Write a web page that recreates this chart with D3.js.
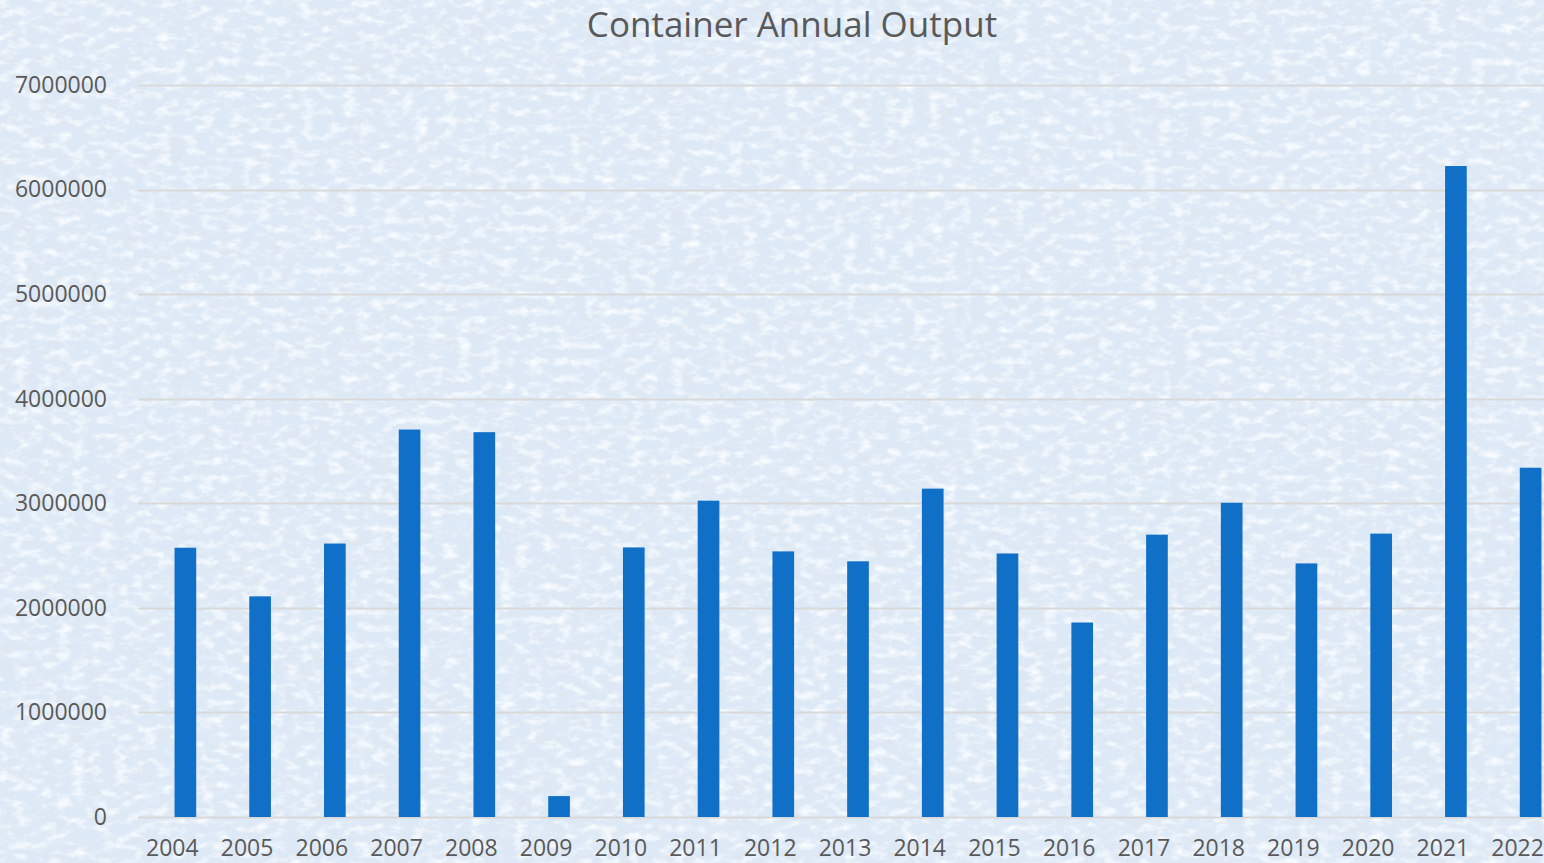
<!DOCTYPE html>
<html>
<head>
<meta charset="utf-8">
<script src="https://cdn.jsdelivr.net/npm/d3@7"></script>
<style>
  html, body { margin: 0; padding: 0; overflow: hidden; }
  svg { display: block; }
</style>
</head>
<body>
<svg id="chart" width="1544" height="863"></svg>
<script>
// data
const years = ['2004','2005','2006','2007','2008','2009','2010','2011','2012','2013',
               '2014','2015','2016','2017','2018','2019','2020','2021','2022'];
const output = [2575000, 2110000, 2615000, 3705000, 3680000, 200000, 2578000, 3025000, 2540000, 2445000,
                3140000, 2520000, 1860000, 2700000, 3005000, 2425000, 2710000, 6225000, 3340000];
const yTicks = [0, 1000000, 2000000, 3000000, 4000000, 5000000, 6000000, 7000000];

function drawChart() {
  let svg = d3.select('#chart');
  let width = +svg.attr('width'),
      height = +svg.attr('height');

  let textColor = '#595959',
      gridColor = '#d9d9d9',
      barColor = '#106fc7';

  // mottled paper-ish background: darker specks + lighter specks
  let defs = svg.append('defs');
  function noiseFilter(id, freq, seed, rgb, a, b) {
    let f = defs.append('filter')
        .attr('id', id)
        .attr('x', 0).attr('y', 0)
        .attr('width', '100%').attr('height', '100%');
    f.append('feTurbulence')
        .attr('type', 'fractalNoise')
        .attr('baseFrequency', freq)
        .attr('numOctaves', 3)
        .attr('seed', seed)
        .attr('result', 'noise');
    f.append('feColorMatrix')
        .attr('in', 'noise')
        .attr('type', 'matrix')
        .attr('values', '0 0 0 0 ' + rgb[0] + '  0 0 0 0 ' + rgb[1] + '  0 0 0 0 ' + rgb[2] +
                        '  ' + a + ' 0 0 0 ' + b);
  }
  noiseFilter('dark', '0.06 0.11', 3, [0.74, 0.80, 0.88], 2.6, -1.25);
  noiseFilter('light', '0.07 0.12', 11, [0.94, 0.97, 1.0], 2.6, -1.2);

  svg.append('rect')
      .attr('width', width).attr('height', height)
      .attr('fill', '#dde9f6');
  svg.append('rect')
      .attr('width', width).attr('height', height)
      .attr('filter', 'url(#dark)');
  svg.append('rect')
      .attr('width', width).attr('height', height)
      .attr('filter', 'url(#light)');

  let x = d3.scaleBand()
      .domain(years)
      .range([148, 1568])
      .paddingInner(0.71)
      .paddingOuter(0.355);

  let y = d3.scaleLinear()
      .domain([0, 7000000])
      .range([817, 85]);

  // gridlines
  svg.append('g')
      .selectAll('line')
      .data(yTicks)
      .enter().append('line')
      .attr('x1', 138).attr('x2', width)
      .attr('y1', d => Math.round(y(d)) + 0.5)
      .attr('y2', d => Math.round(y(d)) + 0.5)
      .attr('stroke', gridColor)
      .attr('stroke-width', 2);

  // y labels
  svg.append('g')
      .selectAll('text')
      .data(yTicks)
      .enter().append('text')
      .attr('x', 107)
      .attr('y', d => y(d))
      .attr('dy', '0.34em')
      .attr('text-anchor', 'end')
      .attr('font-family', 'Open Sans, sans-serif')
      .attr('font-size', 23)
      .attr('fill', textColor)
      .text(d => d);

  // bars
  svg.append('g')
      .selectAll('rect')
      .data(years)
      .enter().append('rect')
      .attr('x', d => x(d))
      .attr('width', x.bandwidth())
      .attr('y', (d, i) => y(output[i]))
      .attr('height', (d, i) => y(0) - y(output[i]))
      .attr('fill', barColor);

  // category labels (sit a little left of the bars in the original)
  svg.append('g')
      .selectAll('text')
      .data(years)
      .enter().append('text')
      .attr('x', d => x(d) + x.bandwidth() / 2 - 13)
      .attr('y', 856)
      .attr('text-anchor', 'middle')
      .attr('font-family', 'Open Sans, sans-serif')
      .attr('font-size', 23)
      .attr('fill', textColor)
      .text(d => d);

  // title
  svg.append('text')
      .attr('x', 792)
      .attr('y', 37)
      .attr('text-anchor', 'middle')
      .attr('font-family', 'Open Sans, sans-serif')
      .attr('font-size', 35)
      .attr('fill', textColor)
      .text('Container Annual Output');
}

drawChart();
</script>
</body>
</html>
